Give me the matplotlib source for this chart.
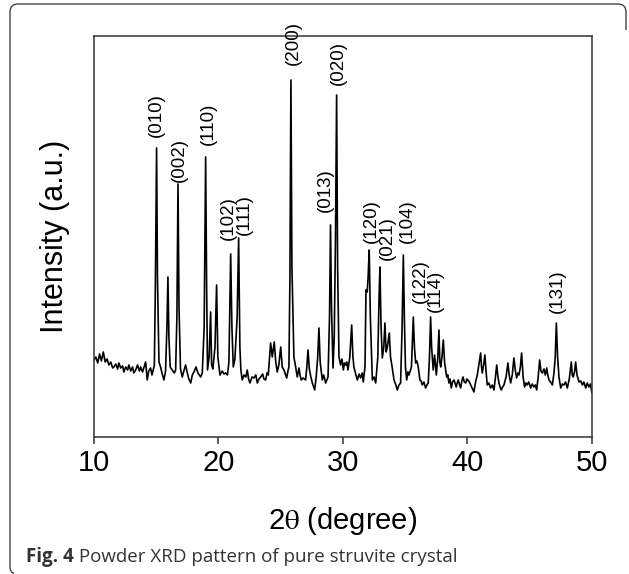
import matplotlib
matplotlib.use("Agg")
import matplotlib.pyplot as plt
from matplotlib.path import Path
from matplotlib.patches import PathPatch

plt.rcParams['font.family'] = ['Liberation Sans', 'DejaVu Sans']
plt.rcParams['mathtext.fontset'] = 'stix'

# XRD trace (2theta in degree, intensity in a.u.)
two_theta = [
    10.00, 10.15, 10.30, 10.45, 10.60, 10.75, 10.90, 11.05, 11.20, 11.35,
    11.50, 11.60, 11.75, 11.90, 12.00, 12.15, 12.30, 12.40, 12.55, 12.70,
    12.80, 12.95, 13.10, 13.20, 13.35, 13.50, 13.65, 13.75, 13.90, 14.05,
    14.15, 14.28, 14.40, 14.55, 14.66, 14.76, 14.85, 14.93, 15.03, 15.10,
    15.22, 15.35, 15.50, 15.62, 15.75, 15.86, 15.94, 16.02, 16.12, 16.29,
    16.45, 16.56, 16.66, 16.75, 16.83, 16.95, 17.09, 17.22, 17.36, 17.50,
    17.62, 17.77, 17.90, 18.03, 18.20, 18.35, 18.57, 18.70, 18.85, 18.97,
    19.05, 19.12, 19.25, 19.37, 19.45, 19.55, 19.72, 19.85, 19.95, 20.12,
    20.30, 20.45, 20.58, 20.72, 20.84, 20.98, 21.08, 21.19, 21.32, 21.50,
    21.62, 21.72, 21.80, 21.91, 22.05, 22.20, 22.31, 22.42, 22.53, 22.70,
    22.85, 23.00, 23.12, 23.25, 23.39, 23.55, 23.65, 23.79, 23.90, 24.00,
    24.19, 24.32, 24.48, 24.60, 24.72, 24.85, 25.00, 25.12, 25.26, 25.40,
    25.48, 25.58, 25.66, 25.74, 25.82, 25.90, 26.06, 26.20, 26.33, 26.47,
    26.55, 26.65, 26.80, 27.00, 27.10, 27.19, 27.30, 27.42, 27.54, 27.73,
    27.85, 27.97, 28.07, 28.17, 28.34, 28.45, 28.61, 28.80, 28.92, 29.00,
    29.08, 29.20, 29.30, 29.40, 29.49, 29.57, 29.68, 29.81, 29.92, 30.03,
    30.12, 30.21, 30.30, 30.40, 30.55, 30.70, 30.80, 30.88, 31.00, 31.15,
    31.30, 31.42, 31.55, 31.63, 31.77, 31.85, 31.95, 32.02, 32.11, 32.20,
    32.36, 32.50, 32.63, 32.80, 32.90, 32.97, 33.06, 33.16, 33.28, 33.37,
    33.47, 33.57, 33.72, 33.82, 33.95, 34.10, 34.25, 34.36, 34.50, 34.63,
    34.75, 34.85, 34.93, 35.02, 35.12, 35.22, 35.30, 35.50, 35.65, 35.74,
    35.84, 35.93, 36.02, 36.10, 36.18, 36.28, 36.37, 36.50, 36.64, 36.75,
    36.85, 36.95, 37.04, 37.12, 37.25, 37.36, 37.50, 37.62, 37.71, 37.78,
    37.85, 37.95, 38.06, 38.16, 38.33, 38.42, 38.51, 38.60, 38.70, 38.80,
    38.92, 39.00, 39.10, 39.18, 39.26, 39.35, 39.45, 39.55, 39.64, 39.75,
    39.86, 39.95, 40.04, 40.15, 40.26, 40.40, 40.52, 40.65, 40.79, 40.95,
    41.06, 41.13, 41.19, 41.30, 41.40, 41.50, 41.59, 41.72, 41.86, 42.00,
    42.13, 42.25, 42.35, 42.45, 42.53, 42.62, 42.72, 42.82, 42.93, 43.10,
    43.25, 43.35, 43.47, 43.60, 43.73, 43.85, 43.95, 44.05, 44.14, 44.25,
    44.35, 44.47, 44.59, 44.70, 44.80, 44.92, 45.08, 45.20, 45.34, 45.45,
    45.56, 45.68, 45.80, 45.90, 46.01, 46.15, 46.25, 46.37, 46.45, 46.55,
    46.68, 46.82, 46.95, 47.05, 47.14, 47.24, 47.35, 47.49, 47.62, 47.75,
    47.88, 48.02, 48.18, 48.34, 48.42, 48.50, 48.60, 48.69, 48.80, 48.96,
    49.10, 49.23, 49.35, 49.50, 49.62, 49.76, 49.88, 50.00,
]
intensity = [
    77, 80, 74, 83, 76, 85, 75, 78, 72, 75,
    69, 70, 73, 68, 74, 69, 71, 65, 70, 67,
    72, 66, 70, 64, 67, 72, 66, 70, 65, 71,
    75, 57, 66, 69, 62, 67, 72, 150, 289, 160,
    75, 70, 62, 57, 66, 110, 160, 100, 70, 67,
    64, 67, 120, 253, 130, 68, 60, 66, 72, 64,
    58, 54, 62, 65, 70, 64, 60, 64, 110, 280,
    150, 67, 80, 125, 72, 68, 90, 152, 80, 62,
    66, 63, 64, 62, 75, 183, 110, 70, 78, 120,
    199, 90, 67, 57, 62, 60, 67, 58, 54, 60,
    59, 62, 54, 58, 60, 63, 58, 57, 64, 62,
    94, 80, 95, 75, 65, 72, 90, 70, 67, 62,
    59, 66, 70, 160, 357, 170, 80, 70, 60, 69,
    62, 57, 59, 57, 70, 87, 68, 60, 54, 47,
    60, 80, 109, 75, 57, 62, 54, 60, 120, 212,
    130, 69, 100, 200, 342, 170, 80, 72, 78, 67,
    74, 72, 75, 67, 80, 112, 80, 70, 64, 57,
    63, 59, 64, 55, 70, 147, 145, 160, 187, 120,
    57, 60, 54, 80, 140, 170, 110, 79, 90, 114,
    85, 90, 104, 80, 70, 57, 52, 47, 52, 54,
    110, 182, 120, 70, 57, 65, 62, 70, 120, 90,
    74, 76, 72, 65, 57, 56, 52, 55, 49, 52,
    54, 80, 120, 90, 67, 82, 62, 80, 107, 75,
    70, 80, 97, 75, 60, 62, 54, 58, 49, 55,
    57, 54, 50, 54, 57, 53, 49, 56, 60, 55,
    54, 58, 57, 55, 52, 48, 45, 55, 62, 75,
    84, 70, 64, 72, 82, 65, 52, 54, 49, 52,
    47, 60, 72, 60, 54, 50, 47, 50, 52, 60,
    74, 62, 54, 62, 79, 66, 59, 64, 62, 70,
    84, 60, 50, 54, 52, 55, 49, 53, 50, 52,
    47, 60, 77, 66, 64, 68, 62, 69, 62, 57,
    55, 52, 64, 80, 114, 80, 60, 49, 53, 52,
    55, 49, 58, 75, 62, 60, 65, 75, 62, 55,
    56, 52, 55, 49, 54, 50, 53, 44,
]

# Miller index labels and where they sit
hkl_labels = ["(010)", "(002)", "(110)", "(102)", "(111)", "(200)", "(013)",
              "(020)", "(120)", "(021)", "(104)", "(122)", "(114)", "(131)"]
hkl_x = [15.03, 16.90, 19.16, 20.76, 22.05, 26.00, 28.55,
         29.63, 32.25, 33.56, 35.17, 36.18, 37.39, 47.21]
hkl_y = [300, 255, 292, 197, 202, 372, 225,
         352, 194, 177, 194, 134, 125, 124]

fig = plt.figure(figsize=(6.29, 5.74), dpi=100)
ax = fig.add_axes([0.1494, 0.2387, 0.7917, 0.6986])

ax.plot(two_theta, intensity, color="black", linewidth=1.2)

for lab, x, y in zip(hkl_labels, hkl_x, hkl_y):
    ax.text(x, y, lab, rotation=90, ha="center", va="bottom", fontsize=13.5,
            clip_on=False)

ax.set_xlim(10, 50)
ax.set_ylim(0, 401)
ax.set_xticks([10, 20, 30, 40, 50])
ax.set_yticks([])
ax.tick_params(axis="x", direction="out", length=5, width=1.1, colors="#333333",
               labelcolor="black", labelsize=21, pad=4)
for sp in ax.spines.values():
    sp.set_color("#333333")
    sp.set_linewidth(1.1)

ax.set_xlabel(r"2$\mathrm{\theta}$ (degree)", fontsize=21, labelpad=20)
ax.set_ylabel("Intensity (a.u.)", fontsize=22, labelpad=17)

# rounded frame around the figure
W, H = 629.0, 574.0
pts = [(14, 573), (10, 573), (10, 566),
       (10, 12), (10, 4), (18, 4),
       (618, 4), (626, 4), (626, 12),
       (626, 30)]
codes = [Path.MOVETO, Path.CURVE3, Path.CURVE3,
         Path.LINETO, Path.CURVE3, Path.CURVE3,
         Path.LINETO, Path.CURVE3, Path.CURVE3,
         Path.LINETO]
verts = [(px / W, 1 - py / H) for px, py in pts]
fig.add_artist(PathPatch(Path(verts, codes), transform=fig.transFigure,
                         fill=False, edgecolor="#444444", linewidth=1.0))

# caption
cap = fig.text(26 / W, 1 - 557 / H, "Fig. 4", fontsize=13.5, fontweight="bold",
               family="Open Sans", color="#333333", va="center")
plt.annotate(" Powder XRD pattern of pure struvite crystal", xy=(1, 0.5),
             xycoords=cap, va="center", fontsize=13.5, family="Open Sans",
             color="#333333")

plt.savefig("out.png", dpi=100)
